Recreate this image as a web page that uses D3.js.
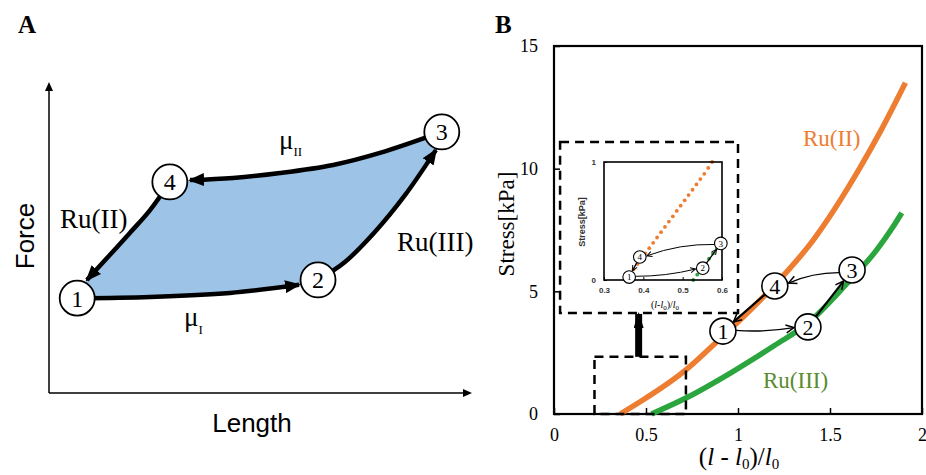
<!DOCTYPE html>
<html>
<head>
<meta charset="utf-8">
<script src="https://cdn.jsdelivr.net/npm/d3@7"></script>
<style>
body { margin: 0; background: #fff; }
svg { display: block; }
</style>
</head>
<body>
<div id="chart"></div>
<script>
// ---- panel A: schematic cycle, arbitrary Length / Force units (0-100)
var nodeIds = ['1', '2', '3', '4']
var nodeLength = [6.7, 63.9, 93.3, 28.7]
var nodeForce = [30.7, 36.6, 84.5, 68.3]
var edge12 = [[6.7, 30.7], [24.0, 31.1], [43.0, 32.4], [59.4, 35.0]]
var edge23 = [[63.9, 36.6], [70.3, 42.4], [77.4, 52.1], [84.6, 64.1], [91.9, 78.6]]
var edge34 = [[93.3, 84.5], [78.6, 77.7], [67.5, 73.8], [54.9, 71.2], [43.7, 69.6], [33.5, 68.9]]
var edge41 = [[28.7, 68.3], [24.0, 59.2], [19.2, 51.8], [14.0, 44.0], [9.0, 36.6]]

// ---- panel B: measured stress-strain
var strainTicks = [0, 0.5, 1, 1.5, 2]
var stressTicks = [0, 5, 10, 15]
var ru2Strain = [0.36, 0.5, 0.717, 0.85, 1.0, 1.18, 1.41, 1.66, 1.78, 1.91]
var ru2Stress = [0, 0.65, 1.8, 2.7, 3.75, 5.1, 7.1, 10.0, 11.6, 13.5]
var ru3Strain = [0.53, 0.717, 0.97, 1.2, 1.38, 1.59, 1.755, 1.84, 1.89]
var ru3Stress = [0, 0.65, 1.72, 2.8, 3.7, 5.3, 6.7, 7.6, 8.2]
var stateStrain = [0.918, 1.38, 1.62, 1.20]
var stateStress = [3.38, 3.55, 5.87, 5.22]

// inset (zoom of the start of the curves)
var insetStrainTicks = [0.3, 0.4, 0.5, 0.6]
var insetStressTicks = [0, 1]
var insetRu2Strain = [0.355, 0.365, 0.375, 0.385, 0.395, 0.405, 0.415, 0.425, 0.435, 0.445, 0.455, 0.465, 0.475, 0.485, 0.495, 0.505, 0.515, 0.525, 0.535, 0.545, 0.555, 0.565, 0.575]
var insetRu2Stress = [0, 0.045, 0.09, 0.135, 0.18, 0.225, 0.27, 0.315, 0.36, 0.405, 0.45, 0.495, 0.54, 0.585, 0.63, 0.675, 0.72, 0.765, 0.81, 0.855, 0.9, 0.95, 1.0]
var insetRu3Strain = [0.527, 0.537, 0.547, 0.557, 0.567, 0.577, 0.587]
var insetRu3Stress = [0, 0.045, 0.09, 0.135, 0.18, 0.225, 0.27]
var insetStateStrain = [0.364, 0.551, 0.597, 0.391]
var insetStateStress = [0.025, 0.10, 0.31, 0.195]

var cycle = [[0, 1], [1, 2], [2, 3], [3, 0]]

var orange = '#ED7D31'
var green = '#2BA63E'
var serif = '"Liberation Serif", "DejaVu Serif", serif'
var sans = '"Liberation Sans", Arial, sans-serif'

var svg = d3.select('#chart').append('svg')
  .attr('width', 926)
  .attr('height', 475)
  .style('background', '#fff')

var defs = svg.append('defs')

function triMarker(id, w, h) {
  defs.append('marker')
    .attr('id', id)
    .attr('markerUnits', 'userSpaceOnUse')
    .attr('viewBox', '0 0 ' + w + ' ' + h)
    .attr('markerWidth', w)
    .attr('markerHeight', h)
    .attr('refX', w - 2)
    .attr('refY', h / 2)
    .attr('orient', 'auto')
    .append('path')
    .attr('d', 'M0,0L' + w + ',' + (h / 2) + 'L0,' + h + 'Z')
    .attr('fill', '#000')
}

function chevronMarker(id, w, h, sw) {
  defs.append('marker')
    .attr('id', id)
    .attr('markerUnits', 'userSpaceOnUse')
    .attr('viewBox', (-sw) + ' ' + (-sw) + ' ' + (w + 2 * sw) + ' ' + (h + 2 * sw))
    .attr('markerWidth', w + 2 * sw)
    .attr('markerHeight', h + 2 * sw)
    .attr('refX', w)
    .attr('refY', h / 2)
    .attr('orient', 'auto')
    .append('path')
    .attr('d', 'M0,0L' + w + ',' + (h / 2) + 'L0,' + h)
    .attr('fill', 'none')
    .attr('stroke', '#000')
    .attr('stroke-width', sw)
}

triMarker('arrA', 16, 13)
triMarker('axA', 9, 8)
triMarker('bigArrow', 16, 10)
chevronMarker('chevB', 8, 8, 1.5)
chevronMarker('chevI', 5, 5, 1)

// ================= panel A =================
var xA = d3.scaleLinear().domain([0, 100]).range([49, 470])
var yA = d3.scaleLinear().domain([0, 100]).range([393, 84])

var gA = svg.append('g')

gA.append('text')
  .attr('x', 18).attr('y', 33)
  .style('font-family', serif).style('font-weight', 'bold').style('font-size', '25px')
  .text('A')

var lineA = d3.line()
  .x(function(d) { return xA(d[0]) })
  .y(function(d) { return yA(d[1]) })
  .curve(d3.curveCatmullRom)

var edgesA = [edge12, edge23, edge34, edge41]

// shaded area enclosed by the cycle
var fillPath = edgesA.map(function(e, i) {
  var p = lineA(e)
  return i === 0 ? p : 'L' + p.slice(1)
}).join('') + 'Z'

gA.append('path')
  .attr('d', fillPath)
  .attr('fill', '#9DC3E6')

// axes
gA.append('line')
  .attr('x1', xA(0)).attr('y1', yA(0))
  .attr('x2', xA(100)).attr('y2', yA(0))
  .attr('stroke', '#000').attr('stroke-width', 1.5)
  .attr('marker-end', 'url(#axA)')
gA.append('line')
  .attr('x1', xA(0)).attr('y1', yA(0))
  .attr('x2', xA(0)).attr('y2', yA(100))
  .attr('stroke', '#000').attr('stroke-width', 1.5)
  .attr('marker-end', 'url(#axA)')

gA.append('text')
  .attr('x', 252).attr('y', 432)
  .attr('text-anchor', 'middle')
  .style('font-family', sans).style('font-size', '26px')
  .text('Length')

gA.append('text')
  .attr('transform', 'translate(34,236) rotate(-90)')
  .attr('text-anchor', 'middle')
  .style('font-family', sans).style('font-size', '26px')
  .text('Force')

gA.selectAll('.edge')
  .data(edgesA)
  .enter().append('path')
  .attr('class', 'edge')
  .attr('d', lineA)
  .attr('fill', 'none')
  .attr('stroke', '#000')
  .attr('stroke-width', 4.5)
  .attr('marker-end', 'url(#arrA)')

var nodesA = gA.selectAll('.node')
  .data(nodeIds)
  .enter().append('g')
  .attr('transform', function(d, i) {
    return 'translate(' + xA(nodeLength[i]) + ',' + yA(nodeForce[i]) + ')'
  })
nodesA.append('circle')
  .attr('r', 17.5)
  .attr('fill', '#fff')
  .attr('stroke', '#000')
  .attr('stroke-width', 1.8)
nodesA.append('text')
  .attr('text-anchor', 'middle')
  .attr('dy', '0.35em')
  .style('font-family', serif).style('font-size', '24px')
  .text(function(d) { return d })

gA.append('text')
  .attr('x', 60).attr('y', 228)
  .style('font-family', serif).style('font-size', '27px')
  .text('Ru(II)')
gA.append('text')
  .attr('x', 397).attr('y', 251)
  .style('font-family', serif).style('font-size', '27px')
  .text('Ru(III)')

var mu2 = gA.append('text')
  .attr('x', 279).attr('y', 149)
  .style('font-family', serif).style('font-size', '27px')
mu2.append('tspan').text('μ')
mu2.append('tspan').attr('dy', 7).style('font-size', '13px').text('II')

var mu1 = gA.append('text')
  .attr('x', 184).attr('y', 326)
  .style('font-family', serif).style('font-size', '27px')
mu1.append('tspan').text('μ')
mu1.append('tspan').attr('dy', 8).style('font-size', '13px').text('I')

// ================= panel B =================
var x = d3.scaleLinear().domain([0, 2]).range([554, 922])
var y = d3.scaleLinear().domain([0, 15]).range([414, 46])

var gB = svg.append('g')

gB.append('text')
  .attr('x', 495).attr('y', 33)
  .style('font-family', serif).style('font-weight', 'bold').style('font-size', '25px')
  .text('B')

var xAxis = gB.append('g')
  .attr('transform', 'translate(0,' + y(0) + ')')
  .call(d3.axisBottom(x).tickValues(strainTicks).tickFormat(String)
    .tickSizeInner(-6).tickSizeOuter(0).tickPadding(14))
var yAxis = gB.append('g')
  .attr('transform', 'translate(' + x(0) + ',0)')
  .call(d3.axisLeft(y).tickValues(stressTicks).tickFormat(String)
    .tickSizeInner(-6).tickSizeOuter(0).tickPadding(16))
gB.selectAll('.domain').remove()
gB.selectAll('.tick line').attr('stroke-width', 1.5)
gB.selectAll('.tick text')
  .style('font-family', serif).style('font-size', '18px').attr('fill', '#000')

gB.append('rect')
  .attr('x', x(0)).attr('y', y(15))
  .attr('width', x(2) - x(0)).attr('height', y(0) - y(15))
  .attr('fill', 'none')
  .attr('stroke', '#000')
  .attr('stroke-width', 2.2)

gB.append('text')
  .attr('transform', 'translate(514,224) rotate(-90)')
  .attr('text-anchor', 'middle')
  .style('font-family', serif).style('font-size', '23px')
  .text('Stress[kPa]')

var xLabel = gB.append('text')
  .attr('x', 739).attr('y', 465)
  .attr('text-anchor', 'middle')
  .style('font-family', serif).style('font-size', '25px')
xLabel.append('tspan').text('(')
xLabel.append('tspan').style('font-style', 'italic').text('l')
xLabel.append('tspan').text(' - ')
xLabel.append('tspan').style('font-style', 'italic').text('l')
xLabel.append('tspan').attr('dy', 4).style('font-size', '15px').text('0')
xLabel.append('tspan').attr('dy', -4).text(')/')
xLabel.append('tspan').style('font-style', 'italic').text('l')
xLabel.append('tspan').attr('dy', 4).style('font-size', '15px').text('0')

var lineB = d3.line()
  .x(function(d) { return x(d[0]) })
  .y(function(d) { return y(d[1]) })
  .curve(d3.curveMonotoneX)

gB.append('path')
  .attr('d', lineB(d3.zip(ru2Strain, ru2Stress)))
  .attr('fill', 'none').attr('stroke', orange).attr('stroke-width', 5.5)
gB.append('path')
  .attr('d', lineB(d3.zip(ru3Strain, ru3Stress)))
  .attr('fill', 'none').attr('stroke', green).attr('stroke-width', 5.5)

gB.append('text')
  .attr('x', x(1.353)).attr('y', y(10.93))
  .attr('fill', orange)
  .style('font-family', serif).style('font-size', '23px')
  .text('Ru(II)')
gB.append('text')
  .attr('x', x(1.136)).attr('y', y(1.06))
  .attr('fill', '#5A8C2E')
  .style('font-family', serif).style('font-size', '23px')
  .text('Ru(III)')

// dashed zoom window and inset frame
gB.append('rect')
  .attr('x', x(0.22)).attr('y', y(2.33))
  .attr('width', x(0.717) - x(0.22)).attr('height', y(0) - y(2.33))
  .attr('fill', 'none').attr('stroke', '#000')
  .attr('stroke-width', 2.5).attr('stroke-dasharray', '9,6')
gB.append('rect')
  .attr('x', x(0.033)).attr('y', y(11.09))
  .attr('width', x(1.0) - x(0.033)).attr('height', y(4.12) - y(11.09))
  .attr('fill', '#fff').attr('stroke', '#000')
  .attr('stroke-width', 2.5).attr('stroke-dasharray', '9,6')
gB.append('line')
  .attr('x1', x(0.46)).attr('y1', y(2.33))
  .attr('x2', x(0.46)).attr('y2', y(4.12) + 1)
  .attr('stroke', '#000').attr('stroke-width', 7)
  .attr('marker-end', 'url(#bigArrow)')

// bent connector between two state circles (pixel coords)
function connector(p0, p1, r0, r1, bend) {
  var dx = p1[0] - p0[0], dy = p1[1] - p0[1]
  var len = Math.sqrt(dx * dx + dy * dy)
  var ux = dx / len, uy = dy / len
  var s = [p0[0] + ux * r0, p0[1] + uy * r0]
  var e = [p1[0] - ux * r1, p1[1] - uy * r1]
  var c = [(s[0] + e[0]) / 2 - uy * bend * len, (s[1] + e[1]) / 2 + ux * bend * len]
  return 'M' + s + 'Q' + c + ' ' + e
}

function drawStates(g, sx, sy, strains, stresses, r, fontSize, marker, widths, bends) {
  var pts = strains.map(function(d, i) { return [sx(d), sy(stresses[i])] })
  g.selectAll(null)
    .data(cycle)
    .enter().append('path')
    .attr('d', function(c, i) { return connector(pts[c[0]], pts[c[1]], r, r + 1, bends[i]) })
    .attr('fill', 'none')
    .attr('stroke', '#000')
    .attr('stroke-width', function(c, i) { return widths[i] })
    .attr('marker-end', 'url(#' + marker + ')')
  var n = g.selectAll(null)
    .data(nodeIds)
    .enter().append('g')
    .attr('transform', function(d, i) { return 'translate(' + pts[i] + ')' })
  n.append('circle')
    .attr('r', r)
    .attr('fill', '#fff')
    .attr('stroke', '#000')
    .attr('stroke-width', r > 8 ? 1.6 : 1.1)
  n.append('text')
    .attr('text-anchor', 'middle')
    .attr('dy', '0.36em')
    .style('font-family', serif).style('font-size', fontSize + 'px')
    .text(function(d) { return d })
}

// ---- inset
var xi = d3.scaleLinear().domain([0.3, 0.6]).range([604, 722])
var yi = d3.scaleLinear().domain([0, 1]).range([280, 162])
var gI = gB.append('g')

gI.append('g')
  .attr('transform', 'translate(0,' + yi(0) + ')')
  .call(d3.axisBottom(xi).tickValues(insetStrainTicks).tickFormat(String)
    .tickSizeInner(-3).tickSizeOuter(0).tickPadding(7))
gI.append('g')
  .attr('transform', 'translate(' + xi(0.3) + ',0)')
  .call(d3.axisLeft(yi).tickValues(insetStressTicks).tickFormat(String)
    .tickSizeInner(-3).tickSizeOuter(0).tickPadding(8))
gI.selectAll('.domain').remove()
gI.selectAll('.tick text')
  .style('font-family', sans).style('font-weight', 'bold').style('font-size', '8px').attr('fill', '#333')

gI.selectAll(null)
  .data(d3.zip(insetRu2Strain, insetRu2Stress))
  .enter().append('circle')
  .attr('cx', function(d) { return xi(d[0]) })
  .attr('cy', function(d) { return yi(d[1]) })
  .attr('r', 1.9)
  .attr('fill', orange)
gI.selectAll(null)
  .data(d3.zip(insetRu3Strain, insetRu3Stress))
  .enter().append('circle')
  .attr('cx', function(d) { return xi(d[0]) })
  .attr('cy', function(d) { return yi(d[1]) })
  .attr('r', 1.9)
  .attr('fill', green)

gI.append('rect')
  .attr('x', xi(0.3)).attr('y', yi(1))
  .attr('width', xi(0.6) - xi(0.3)).attr('height', yi(0) - yi(1))
  .attr('fill', 'none').attr('stroke', '#000').attr('stroke-width', 1.6)

gI.append('text')
  .attr('transform', 'translate(585,222) rotate(-90)')
  .attr('text-anchor', 'middle')
  .style('font-family', sans).style('font-weight', 'bold').style('font-size', '9px').attr('fill', '#333')
  .text('Stress[kPa]')

var ixLabel = gI.append('text')
  .attr('x', 665).attr('y', 308)
  .attr('text-anchor', 'middle')
  .style('font-family', serif).style('font-size', '10px')
ixLabel.append('tspan').text('(')
ixLabel.append('tspan').style('font-style', 'italic').text('l')
ixLabel.append('tspan').text('-')
ixLabel.append('tspan').style('font-style', 'italic').text('l')
ixLabel.append('tspan').attr('dy', 2).style('font-size', '7px').text('0')
ixLabel.append('tspan').attr('dy', -2).text(')/')
ixLabel.append('tspan').style('font-style', 'italic').text('l')
ixLabel.append('tspan').attr('dy', 2).style('font-size', '7px').text('0')

drawStates(gI, xi, yi, insetStateStrain, insetStateStress, 6.3, 9, 'chevI',
  [1, 1.3, 1, 1.3], [0.05, 0, 0.08, 0])

// ---- main state circles
drawStates(gB, x, y, stateStrain, stateStress, 13, 22, 'chevB',
  [1.3, 2.2, 1.3, 2.2], [0.04, 0, 0.07, 0])
</script>
</body>
</html>
